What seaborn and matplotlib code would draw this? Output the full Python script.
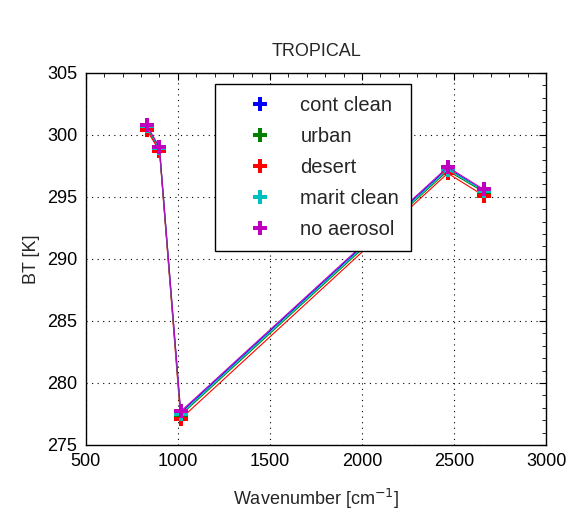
import numpy as np
import pandas as pd
import seaborn as sns
import matplotlib
matplotlib.use("Agg")
import matplotlib.pyplot as plt
from matplotlib.lines import Line2D
from matplotlib.ticker import MultipleLocator

# Channel wavenumbers [cm^-1]
wavenumber = [830, 900, 1015, 2465, 2660]

# Brightness temperatures [K] for each aerosol type
cont_clean = [300.7, 298.9, 277.6, 297.3, 295.5]
urban = [300.6, 298.8, 277.4, 297.1, 295.4]
desert = [300.4, 298.7, 277.1, 296.9, 295.1]
marit_clean = [300.7, 298.9, 277.5, 297.2, 295.5]
no_aerosol = [300.8, 299.0, 277.7, 297.4, 295.6]

labels = ["cont clean", "urban", "desert", "marit clean", "no aerosol"]
colors = ["#0000ff", "#008000", "#ff0000", "#00bfbf", "#bf00bf"]

series = [cont_clean, urban, desert, marit_clean, no_aerosol]
df = pd.DataFrame({
    "wavenumber": np.tile(wavenumber, len(labels)),
    "BT": np.concatenate(series),
    "case": np.repeat(labels, len(wavenumber)),
})

sns.set_style("white")
plt.rcParams["font.family"] = ["Liberation Sans", "DejaVu Sans"]

fig = plt.figure(figsize=(5.72, 5.16), dpi=100)
ax = fig.add_axes([0.150, 0.1376, 0.805, 0.7214])

palette = dict(zip(labels, colors))
sns.lineplot(data=df, x="wavenumber", y="BT", hue="case", hue_order=labels,
             palette=palette, style="case", markers={l: "P" for l in labels},
             dashes=False, markersize=10, markeredgewidth=0, linewidth=0.8,
             legend=False, ax=ax)

ax.set_xlim(500, 3000)
ax.set_ylim(275, 305)
ax.xaxis.set_major_locator(MultipleLocator(500))
ax.xaxis.set_minor_locator(MultipleLocator(100))
ax.yaxis.set_major_locator(MultipleLocator(5))
ax.yaxis.set_minor_locator(MultipleLocator(1))
ax.tick_params(which="both", direction="in", top=True, right=True,
               labelsize=13, colors="black")
ax.tick_params(which="major", length=5, width=0.8, pad=6)
ax.tick_params(which="minor", length=3, width=0.6)
ax.grid(True, which="major", linestyle=(0, (1, 4)), color="black", linewidth=0.8)
for s in ax.spines.values():
    s.set_color("black")
    s.set_linewidth(1.0)

ax.set_title("TROPICAL", fontsize=13, pad=12)
ax.set_xlabel("Wavenumber [cm$^{-1}$]", fontsize=13, labelpad=12)
ax.set_ylabel("BT [K]", fontsize=13, labelpad=5)

handles = [Line2D([], [], marker="P", linestyle="none", color=c,
                  markersize=10, markeredgewidth=0) for c in colors]
leg = ax.legend(handles, labels, loc="upper left", bbox_to_anchor=(0.28, 0.97),
                borderaxespad=0, fontsize=14.5, labelspacing=0.6,
                handletextpad=0.35, borderpad=0.6, handlelength=3.3,
                fancybox=False, framealpha=1, edgecolor="black")
leg.get_frame().set_linewidth(1.0)

fig.savefig("out.png", dpi=100)
